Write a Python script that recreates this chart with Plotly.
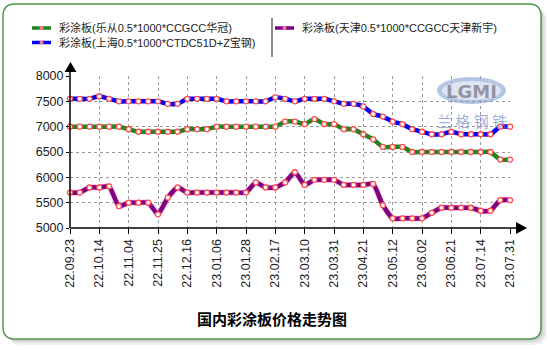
import plotly.graph_objects as go

# Weekly sampling dates (every third one is labelled on the axis)
dates = [
    "22.09.23", "22.09.30", "22.10.08", "22.10.14", "22.10.21", "22.10.28",
    "22.11.04", "22.11.11", "22.11.18", "22.11.25", "22.12.02", "22.12.09",
    "22.12.16", "22.12.23", "22.12.30", "23.01.06", "23.01.13", "23.01.20",
    "23.01.28", "23.02.03", "23.02.10", "23.02.17", "23.02.24", "23.03.03",
    "23.03.10", "23.03.17", "23.03.24", "23.03.31", "23.04.07", "23.04.14",
    "23.04.21", "23.04.28", "23.05.06", "23.05.12", "23.05.19", "23.05.26",
    "23.06.02", "23.06.09", "23.06.16", "23.06.21", "23.06.30", "23.07.07",
    "23.07.14", "23.07.21", "23.07.26", "23.07.31",
]
tick_labels = [
    "22.09.23", "22.10.14", "22.11.04", "22.11.25", "22.12.16", "23.01.06",
    "23.01.28", "23.02.17", "23.03.10", "23.03.31", "23.04.21", "23.05.12",
    "23.06.02", "23.06.21", "23.07.14", "23.07.31",
]
y_ticks = [5000, 5500, 6000, 6500, 7000, 7500, 8000]

name_lecong = "彩涂板(乐从0.5*1000*CCGCC华冠)"
name_shanghai = "彩涂板(上海0.5*1000*CTDC51D+Z宝钢)"
name_tianjin = "彩涂板(天津0.5*1000*CCGCC天津新宇)"

lecong = [
    7000, 7000, 7000, 7000, 7000, 7000, 6950, 6900, 6900, 6900, 6900, 6900,
    6950, 6950, 6950, 7000, 7000, 7000, 7000, 7000, 7000, 7000, 7100, 7100,
    7050, 7150, 7050, 7050, 6950, 6950, 6850, 6750, 6600, 6600, 6600, 6500,
    6500, 6500, 6500, 6500, 6500, 6500, 6500, 6500, 6350, 6350,
]
shanghai = [
    7550, 7550, 7550, 7600, 7550, 7500, 7500, 7500, 7500, 7500, 7450, 7450,
    7550, 7550, 7550, 7550, 7500, 7500, 7500, 7500, 7500, 7580, 7550, 7500,
    7550, 7550, 7550, 7500, 7450, 7450, 7400, 7250, 7200, 7100, 7050, 6950,
    6900, 6850, 6850, 6900, 6850, 6850, 6850, 6850, 7000, 7000,
]
tianjin = [
    5700, 5700, 5800, 5800, 5820, 5430, 5500, 5500, 5500, 5270, 5600, 5800,
    5700, 5700, 5700, 5700, 5700, 5700, 5700, 5900, 5800, 5800, 5900, 6100,
    5850, 5950, 5950, 5950, 5850, 5850, 5850, 5870, 5450, 5190, 5190, 5190,
    5190, 5300, 5400, 5400, 5400, 5400, 5340, 5340, 5550, 5550,
]

GREEN = "#1c851c"
BLUE = "#0000ff"
PURPLE = "#800080"
DOT_EDGE = "#ff4b4b"
FONT = "Liberation Sans, Noto Sans CJK SC, sans-serif"

W, H = 550, 350
L, R, T, B = 70, 40, 76, 122
PW, PH = W - L - R, H - T - B


def px(x):
    return (x - L) / PW


def py(y):
    return (H - B - y) / PH


def rounded_rect(x0, y0, x1, y1, r):
    return (
        f"M {px(x0 + r)},{py(y0)} L {px(x1 - r)},{py(y0)} "
        f"Q {px(x1)},{py(y0)} {px(x1)},{py(y0 + r)} "
        f"L {px(x1)},{py(y1 - r)} Q {px(x1)},{py(y1)} {px(x1 - r)},{py(y1)} "
        f"L {px(x0 + r)},{py(y1)} Q {px(x0)},{py(y1)} {px(x0)},{py(y1 - r)} "
        f"L {px(x0)},{py(y0 + r)} Q {px(x0)},{py(y0)} {px(x0 + r)},{py(y0)} Z"
    )


def label(x, y, text, size, color, family=FONT, xanchor="center"):
    return dict(x=px(x), y=py(y), xref="paper", yref="paper", text=text,
                showarrow=False, xanchor=xanchor, yanchor="middle",
                font=dict(family=family, size=size, color=color))


fig = go.Figure()

series = [
    (name_shanghai, shanghai, BLUE),
    (name_lecong, lecong, GREEN),
    (name_tianjin, tianjin, PURPLE),
]
for name, values, color in series:
    if color == PURPLE:
        fig.add_trace(go.Scatter(
            x=dates, y=values, mode="lines", hoverinfo="skip",
            line=dict(color="rgba(230,110,200,0.45)", width=6, shape="spline", smoothing=0.5),
            showlegend=False, cliponaxis=False,
        ))
    fig.add_trace(go.Scatter(
        x=dates, y=values, name=name, mode="lines+markers",
        line=dict(color=color, width=4.5, shape="spline", smoothing=0.5),
        marker=dict(size=5, color="white", line=dict(color=DOT_EDGE, width=1.3)),
        showlegend=False, cliponaxis=False,
    ))

shapes = []
# card shadow and frame
for i, a in [(6, 0.05), (4, 0.07), (2, 0.09)]:
    shapes.append(dict(type="path", xref="paper", yref="paper", layer="below",
                       path=rounded_rect(3 + i, 4 + i, 541 + i, 339 + i, 12),
                       fillcolor=f"rgba(0,0,0,{a})", line=dict(width=0)))
shapes.append(dict(type="path", xref="paper", yref="paper", layer="below",
                   path=rounded_rect(3, 4, 541, 339, 12),
                   fillcolor="white", line=dict(color="#4f9a4f", width=1.5)))

# axis lines with arrow heads
shapes.append(dict(type="line", xref="paper", yref="paper", x0=px(70), y0=py(228),
                   x1=px(518), y1=py(228), line=dict(color="black", width=1.5)))
shapes.append(dict(type="line", xref="paper", yref="paper", x0=px(70), y0=py(228),
                   x1=px(70), y1=py(70), line=dict(color="black", width=1.5)))
shapes.append(dict(type="path", xref="paper", yref="paper",
                   path=f"M {px(516)},{py(222)} L {px(527)},{py(228)} L {px(516)},{py(234)} Z",
                   fillcolor="black", line=dict(width=0)))
shapes.append(dict(type="path", xref="paper", yref="paper",
                   path=f"M {px(64.5)},{py(72)} L {px(70.5)},{py(62)} L {px(76.5)},{py(72)} Z",
                   fillcolor="black", line=dict(width=0)))

# legend keys
legend_items = [
    (name_lecong, GREEN, 32, 28),
    (name_shanghai, BLUE, 32, 42.5),
    (name_tianjin, PURPLE, 275, 28),
]
annotations = []
for name, color, x0, yc in legend_items:
    shapes.append(dict(type="line", xref="paper", yref="paper", x0=px(x0), y0=py(yc),
                       x1=px(x0 + 19), y1=py(yc), line=dict(color=color, width=3.5)))
    shapes.append(dict(type="circle", xref="paper", yref="paper",
                       x0=px(x0 + 7.5), y0=py(yc - 2), x1=px(x0 + 11.5), y1=py(yc + 2),
                       fillcolor="#ff7a9a", line=dict(width=0)))
    annotations.append(label(x0 + 25, yc, name, 11, "#222", xanchor="left"))
shapes.append(dict(type="line", xref="paper", yref="paper", x0=px(272), y0=py(18),
                   x1=px(272), y1=py(57), line=dict(color="#666", width=1.5)))

# watermark logo
shapes.append(dict(type="circle", xref="paper", yref="paper",
                   x0=px(437), y0=py(104), x1=px(506), y1=py(77),
                   fillcolor="rgba(120,150,205,0.55)", line=dict(width=0)))
shapes.append(dict(type="circle", xref="paper", yref="paper",
                   x0=px(442), y0=py(100), x1=px(501), y1=py(81),
                   fillcolor="rgba(232,237,247,0.8)", line=dict(width=0)))
annotations.append(label(471, 91, "<b>LGMI</b>", 18, "rgba(135,135,145,0.85)",
                         family="DejaVu Sans"))
annotations.append(label(472, 120, "兰 格 钢 铁", 15, "rgba(110,140,200,0.7)",
                         family="Noto Sans CJK SC"))

# chart title
annotations.append(label(272, 318, "<b>国内彩涂板价格走势图</b>", 15, "black",
                         family="Noto Sans CJK SC"))

fig.update_layout(
    width=W, height=H,
    margin=dict(l=L, r=R, t=T, b=B),
    paper_bgcolor="white", plot_bgcolor="rgba(0,0,0,0)",
    shapes=shapes, annotations=annotations,
    showlegend=False,
    font=dict(family=FONT, size=12.5, color="#222"),
)
fig.update_xaxes(
    type="category", range=[0, len(dates) - 1],
    tickmode="array", tickvals=tick_labels, ticktext=tick_labels,
    tickangle=-90, ticks="outside", ticklen=5, tickcolor="black",
    showgrid=True, gridcolor="#9a9a9a", griddash="dot", gridwidth=1,
    showline=False, zeroline=False,
)
fig.update_yaxes(
    range=[5000, 8000], tickvals=y_ticks,
    ticks="outside", ticklen=3, tickcolor="black",
    showgrid=True, gridcolor="#9a9a9a", griddash="dot", gridwidth=1,
    showline=False, zeroline=False,
)

fig.write_html("out.html")
